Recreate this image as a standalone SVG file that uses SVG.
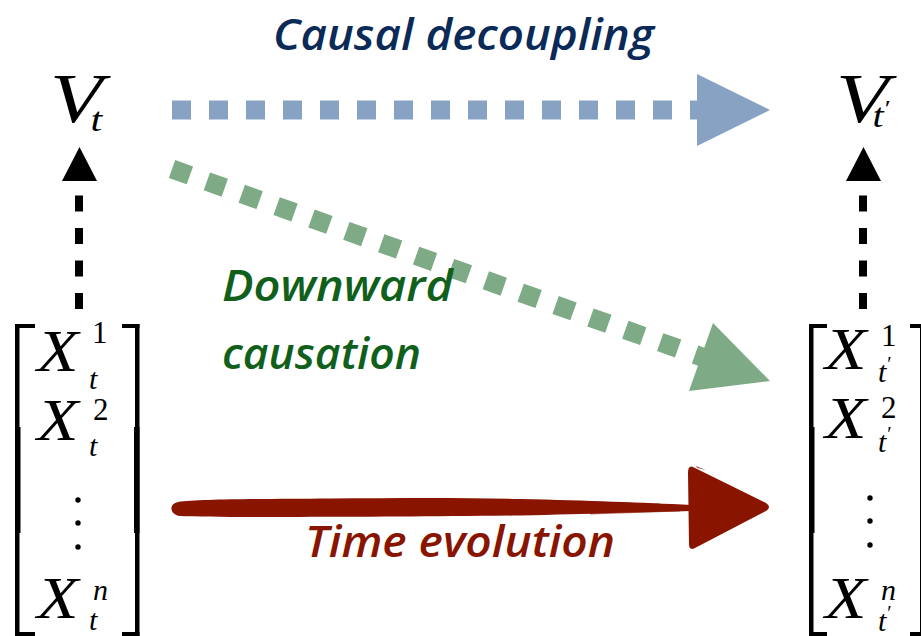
<svg xmlns="http://www.w3.org/2000/svg" width="921" height="636" viewBox="0 0 921 636">
  <defs>
    <style>
      .math { font-family: "Liberation Serif", "DejaVu Serif", serif; font-style: italic; font-weight: 400; fill: #000; }
      .num { font-family: "Liberation Serif", "DejaVu Serif", serif; font-style: normal; font-weight: 400; fill: #000; }
      .big-x { font-size: 68px; }
      .sub { font-size: 30px; }
      .label { font-family: "Open Sans", "Noto Sans", "Liberation Sans", sans-serif; font-weight: 650; font-style: italic; font-size: 44px; }
      .bracket { fill: #000; }
      .dash-black { stroke: #000; stroke-width: 8; stroke-dasharray: 16 16.5; fill: none; }
      .dash-blue { stroke: #87a2c2; stroke-width: 19; stroke-dasharray: 19 18; fill: none; }
      .dash-green { stroke: #7eab86; stroke-width: 19; stroke-dasharray: 19 18; fill: none; }
    </style>
  </defs>

  <rect width="921" height="636" fill="#ffffff"/>

  <!-- macro variable at time t -->
  <g id="node-Vt">
    <text class="math" transform="translate(50,122) scale(1,0.82)" font-size="86">V<tspan font-size="42" dx="-12" dy="11">t</tspan></text>
  </g>

  <!-- macro variable at time t' -->
  <g id="node-Vt-prime">
    <text class="math" transform="translate(836,122) scale(1,0.82)" font-size="86">V<tspan font-size="40" dx="-16" dy="6">t</tspan><tspan class="num" font-size="28" dx="1" dy="-13">′</tspan></text>
  </g>

  <!-- micro state vector at time t -->
  <g id="node-Xt">
    <rect class="bracket" x="15" y="324" width="4.5" height="312"/>
    <rect class="bracket" x="15" y="427" width="5.5" height="106"/>
    <rect class="bracket" x="15" y="324" width="20" height="4"/>
    <rect class="bracket" x="15" y="632" width="20" height="4"/>
    <rect class="bracket" x="135" y="324" width="4.5" height="312"/>
    <rect class="bracket" x="134" y="427" width="5.5" height="106"/>
    <rect class="bracket" x="122" y="324" width="17.5" height="4"/>
    <rect class="bracket" x="122" y="632" width="17.5" height="4"/>

    <text class="math big-x" transform="translate(37,371) scale(1,0.87)">X</text>
    <text class="num" x="92" y="343" font-size="31">1</text>
    <text class="math sub" x="89" y="389">t</text>

    <text class="math big-x" transform="translate(37,440) scale(1,0.87)">X</text>
    <text class="num" x="93" y="420" font-size="31">2</text>
    <text class="math sub" x="89" y="456">t</text>

    <circle cx="78" cy="500" r="2.7"/>
    <circle cx="78" cy="523" r="2.7"/>
    <circle cx="78" cy="547" r="2.7"/>

    <text class="math big-x" transform="translate(37,618) scale(1,0.87)">X</text>
    <text class="math sub" x="93" y="600">n</text>
    <text class="math sub" x="89" y="630">t</text>
  </g>

  <!-- micro state vector at time t' -->
  <g id="node-Xt-prime">
    <rect class="bracket" x="809" y="324" width="4.5" height="312"/>
    <rect class="bracket" x="809" y="427" width="5.5" height="106"/>
    <rect class="bracket" x="809" y="324" width="18" height="4"/>
    <rect class="bracket" x="809" y="632" width="18" height="4"/>
    <rect class="bracket" x="920" y="324" width="4.5" height="312"/>
    <rect class="bracket" x="910" y="324" width="14" height="4"/>
    <rect class="bracket" x="910" y="632" width="14" height="4"/>

    <text class="math big-x" transform="translate(825,369) scale(1,0.87)">X</text>
    <text class="num" x="881" y="346" font-size="31">1</text>
    <text class="math sub" x="878" y="382">t<tspan class="num" font-size="20" dx="1" dy="-11">′</tspan></text>

    <text class="math big-x" transform="translate(825,438) scale(1,0.87)">X</text>
    <text class="num" x="881" y="418" font-size="31">2</text>
    <text class="math sub" x="878" y="452">t<tspan class="num" font-size="20" dx="1" dy="-11">′</tspan></text>

    <circle cx="870" cy="498" r="2.7"/>
    <circle cx="870" cy="521" r="2.7"/>
    <circle cx="870" cy="545" r="2.7"/>

    <text class="math big-x" transform="translate(825,618) scale(1,0.87)">X</text>
    <text class="math sub" x="881" y="600">n</text>
    <text class="math sub" x="878" y="631">t<tspan class="num" font-size="20" dx="1" dy="-11">′</tspan></text>
  </g>

  <!-- connectors -->
  <g id="connectors">
    <!-- emergence: micro to macro -->
    <line class="dash-black" x1="79" y1="309" x2="79" y2="195"/>
    <polygon points="62,181 79.5,147 97,181" fill="#000"/>
    <line class="dash-black" x1="863" y1="309" x2="863" y2="195"/>
    <polygon points="846,181 863.5,147 881,181" fill="#000"/>

    <!-- causal decoupling -->
    <line class="dash-blue" x1="172" y1="110" x2="698" y2="110"/>
    <polygon points="697,74 770,110 697,146" fill="#87a2c2"/>

    <!-- downward causation -->
    <line class="dash-green" x1="172" y1="169" x2="702" y2="357"/>
    <polygon points="713,323 770,381 689,391" fill="#7eab86"/>

    <!-- time evolution: brush stroke -->
    <g fill="#891400">
      <path d="M178,502 C200,499 260,499 330,498.5 C400,498 460,497.5 520,499 C590,500.5 640,502.5 692,505 L692,511 C640,512 590,514 520,515.5 C440,516.5 360,517 300,517 C240,517 200,517 180,516 C170,515 168,504 178,502 Z"/>
      <path d="M560,501 L660,503.5 L660,504.5 L560,502.5 Z" opacity="0.6"/>
      <path d="M590,513 L680,510.5 L680,511.5 L590,514.5 Z" opacity="0.6"/>
      <path d="M693,467 L766,503 Q772,507 766,511 L695,548 Q689,551 689,544 L688,473 Q688,465 693,467 Z"/>
      <path d="M696,466 L706,470 L697,468 Z" opacity="0.7"/>
    </g>
  </g>

  <!-- labels -->
  <g id="labels">
    <text class="label" x="273" y="50" fill="#0b2a58" textLength="381" lengthAdjust="spacingAndGlyphs">Causal decoupling</text>
    <text class="label" x="222" y="301" fill="#10601c" textLength="231" lengthAdjust="spacingAndGlyphs">Downward</text>
    <text class="label" x="222" y="369" fill="#10601c" textLength="199" lengthAdjust="spacingAndGlyphs">causation</text>
    <text class="label" x="305" y="557" fill="#891400" textLength="310" lengthAdjust="spacingAndGlyphs">Time evolution</text>
  </g>
</svg>
